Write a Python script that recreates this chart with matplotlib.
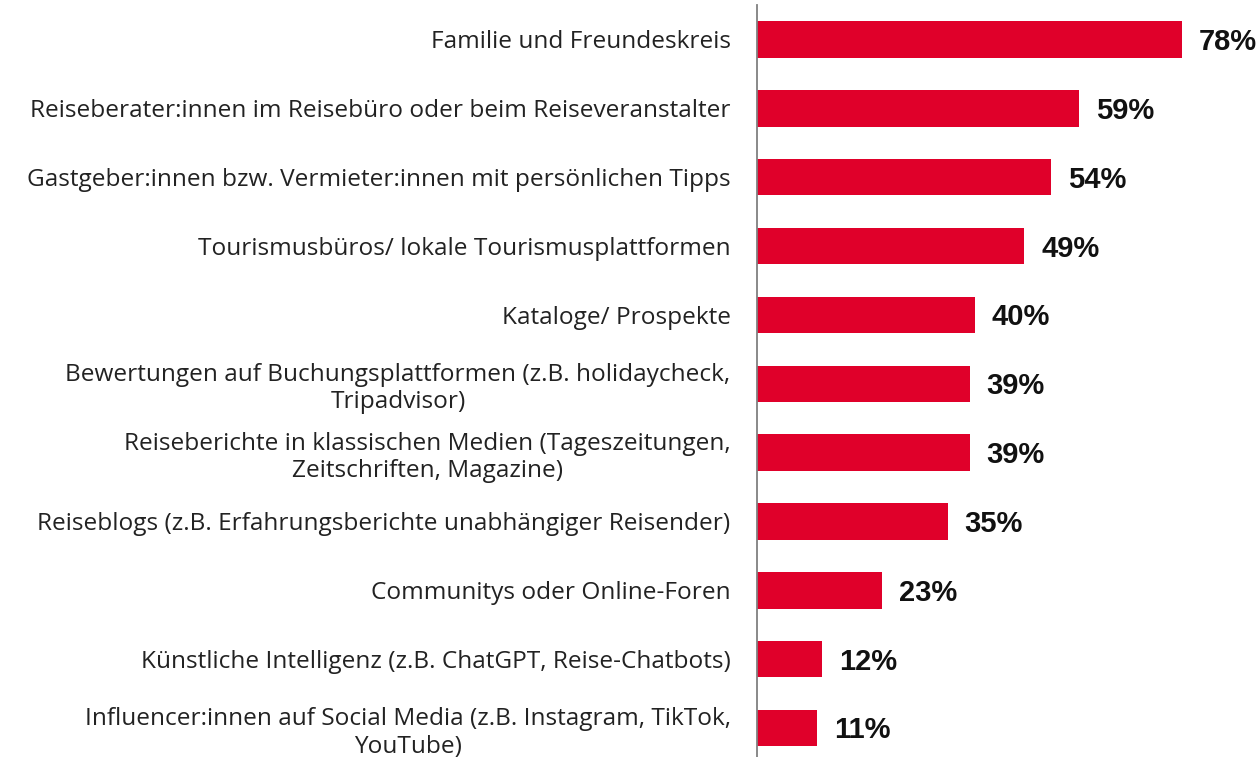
import matplotlib
matplotlib.use("Agg")
import matplotlib.pyplot as plt
from matplotlib.transforms import offset_copy

categories = [
    "Familie und Freundeskreis",
    "Reiseberater:innen im Reisebüro oder beim Reiseveranstalter",
    "Gastgeber:innen bzw. Vermieter:innen mit persönlichen Tipps",
    "Tourismusbüros/ lokale Tourismusplattformen",
    "Kataloge/ Prospekte",
    "Bewertungen auf Buchungsplattformen (z.B. holidaycheck,\nTripadvisor)",
    "Reiseberichte in klassischen Medien (Tageszeitungen,\nZeitschriften, Magazine)",
    "Reiseblogs (z.B. Erfahrungsberichte unabhängiger Reisender)",
    "Communitys oder Online-Foren",
    "Künstliche Intelligenz (z.B. ChatGPT, Reise-Chatbots)",
    "Influencer:innen auf Social Media (z.B. Instagram, TikTok,\nYouTube)",
]
values = [78, 59, 54, 49, 40, 39, 39, 35, 23, 12, 11]

BAR_COLOR = "#E0002A"

W, H = 1260, 757
fig = plt.figure(figsize=(W / 100, H / 100), dpi=100)
ax = fig.add_axes([757 / W, 0, 1 - 757 / W, 1])

y = list(range(len(categories)))
ax.barh(y, values, height=0.53, color=BAR_COLOR)

ax.set_xlim(0, (W - 757) / 5.45)
ax.set_ylim((H - 39.5) / 68.85, -39.5 / 68.85)

for s in ["top", "right", "bottom"]:
    ax.spines[s].set_visible(False)
ax.spines["left"].set_color("#808080")
ax.spines["left"].set_linewidth(1.3)
ax.spines["left"].set_bounds(-0.5, (H - 39.5) / 68.85)

ax.set_xticks([])
ax.set_yticks(y)
ax.set_yticklabels(categories, fontsize=17.6, family="Open Sans", color="#222222",
                   linespacing=1.2)
for t in ax.get_yticklabels():
    t.set_multialignment("center")
ax.tick_params(axis="y", length=0, pad=19)

trans = offset_copy(ax.transData, fig=fig, x=17, y=-2.5, units="dots")
for yi, v in zip(y, values):
    ax.text(v, yi, f"{v}%", transform=trans, ha="left", va="center",
            fontsize=21, fontweight="bold", family="Liberation Sans", color="#111111")

fig.savefig("out.png", dpi=100)
